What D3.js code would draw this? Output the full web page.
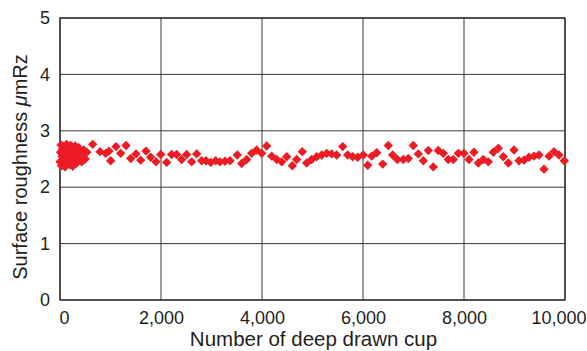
<!DOCTYPE html>
<html>
<head>
<meta charset="utf-8">
<script src="https://cdn.jsdelivr.net/npm/d3@7"></script>
<style>
  body { margin: 0; background: #fff; }
  text { font-family: "Liberation Sans", Arial, sans-serif; fill: #231f20; }
</style>
</head>
<body>
<div id="chart"></div>
<script>
// dense cluster of early cups (0 - 550)
var earlyCups = [0, 10, 20, 30, 40, 50, 60, 70, 80, 90, 100, 110, 120, 130, 140, 150, 160, 170, 180, 190,
    200, 210, 220, 230, 240, 250, 260, 270, 280, 290, 300, 310, 320, 330, 340, 350, 370, 390, 410, 430, 450, 470, 500, 530];
var earlyRz = [2.45, 2.62, 2.75, 2.38, 2.55, 2.68, 2.42, 2.72, 2.50, 2.60, 2.36, 2.66, 2.48, 2.76, 2.57, 2.44, 2.70, 2.52, 2.63, 2.40,
    2.58, 2.74, 2.47, 2.65, 2.53, 2.37, 2.69, 2.55, 2.46, 2.61, 2.73, 2.50, 2.42, 2.64, 2.56, 2.48, 2.70, 2.52, 2.60, 2.45, 2.58, 2.66, 2.50, 2.62];

// later cups
var laterCups = [647, 792, 905, 970, 1003, 1109, 1202, 1307, 1400, 1505, 1598, 1703, 1796, 1901, 1994, 2112, 2211, 2310, 2409, 2508,
    2607, 2706, 2805, 2891, 2984, 3083, 3168, 3267, 3366, 3511, 3597, 3696, 3795, 3894, 3993, 4092, 4192, 4291, 4390, 4489,
    4600, 4687, 4798, 4885, 4984, 5083, 5182, 5281, 5380, 5479, 5598, 5697, 5796, 5895, 6006, 6093, 6172, 6271, 6390, 6501,
    6588, 6680, 6798, 6897, 6996, 7095, 7194, 7293, 7392, 7491, 7590, 7689, 7788, 7887, 8000, 8099, 8198, 8284, 8382, 8481,
    8580, 8679, 8778, 8877, 8990, 9089, 9188, 9287, 9386, 9485, 9584, 9683, 9782, 9881, 9986];
var laterRz = [2.76, 2.63, 2.60, 2.64, 2.47, 2.72, 2.60, 2.74, 2.51, 2.59, 2.48, 2.64, 2.53, 2.45, 2.58, 2.44, 2.58, 2.58, 2.49, 2.58,
    2.45, 2.59, 2.47, 2.47, 2.44, 2.47, 2.45, 2.46, 2.47, 2.57, 2.42, 2.49, 2.60, 2.66, 2.60, 2.73, 2.55, 2.49, 2.45, 2.54,
    2.38, 2.49, 2.63, 2.43, 2.49, 2.54, 2.57, 2.60, 2.59, 2.57, 2.72, 2.57, 2.54, 2.53, 2.57, 2.39, 2.55, 2.61, 2.41, 2.74,
    2.57, 2.49, 2.49, 2.51, 2.74, 2.59, 2.47, 2.65, 2.36, 2.65, 2.60, 2.49, 2.49, 2.60, 2.60, 2.49, 2.62, 2.43, 2.49, 2.45,
    2.62, 2.69, 2.54, 2.43, 2.66, 2.47, 2.48, 2.53, 2.55, 2.57, 2.32, 2.55, 2.63, 2.57, 2.47];

var xTicks = [0, 2000, 4000, 6000, 8000, 10000];
var yTicks = [0, 1, 2, 3, 4, 5];

var data = earlyCups.map(function(c, i){ return {cup: c, rz: earlyRz[i]}; })
    .concat(laterCups.map(function(c, i){ return {cup: c, rz: laterRz[i]}; }));

var W = 587, H = 351;
var margin = {t: 18, r: 22, b: 51, l: 60};
var width = W - margin.l - margin.r,
    height = H - margin.t - margin.b;

var svg = d3.select('#chart').append('svg')
    .attr('width', W)
    .attr('height', H);

var x = d3.scaleLinear().domain([0, 10000]).range([0, width]);
var y = d3.scaleLinear().domain([0, 5]).range([height, 0]);

var g = svg.append('g').attr('transform', 'translate(' + margin.l + ',' + margin.t + ')');

// grid
g.append('g').selectAll('line').data(yTicks).enter().append('line')
    .attr('x1', 0).attr('x2', width)
    .attr('y1', function(d){ return y(d); }).attr('y2', function(d){ return y(d); })
    .attr('stroke', '#3a3a3a').attr('stroke-width', 1);
g.append('g').selectAll('line').data(xTicks).enter().append('line')
    .attr('y1', 0).attr('y2', height)
    .attr('x1', function(d){ return x(d); }).attr('x2', function(d){ return x(d); })
    .attr('stroke', '#3a3a3a').attr('stroke-width', 1);

// frame
g.append('rect').attr('width', width).attr('height', height)
    .attr('fill', 'none').attr('stroke', '#231f20').attr('stroke-width', 1.2);

// axes (labels only)
var xAxis = d3.axisBottom(x).tickValues(xTicks).tickSize(0).tickPadding(11)
    .tickFormat(d3.format(','));
var yAxis = d3.axisLeft(y).tickValues(yTicks).tickSize(0).tickPadding(10)
    .tickFormat(d3.format('d'));

var gx = g.append('g').attr('transform', 'translate(0,' + height + ')').call(xAxis)
    .call(function(a){ a.select('.domain').remove(); });
gx.selectAll('text').style('font-size', '18px').attr('fill', '#231f20');
// first and last labels sit inside the frame edges
gx.selectAll('text').filter(function(d){ return d === 0; }).attr('dx', 4);
gx.selectAll('text').filter(function(d){ return d === 10000; })
    .attr('text-anchor', 'end').attr('dx', 21);

g.append('g').call(yAxis)
    .call(function(a){ a.select('.domain').remove(); })
    .selectAll('text').style('font-size', '18px').attr('fill', '#231f20');

// points
var diamond = d3.symbol().type(d3.symbolSquare).size(44);
g.append('g').selectAll('path').data(data).enter().append('path')
    .attr('d', diamond)
    .attr('transform', function(d){ return 'translate(' + x(d.cup) + ',' + y(d.rz) + ') rotate(45)'; })
    .attr('fill', '#ed1c24');

// titles
svg.append('text')
    .attr('x', margin.l + width / 2 + 1).attr('y', H - 5)
    .attr('text-anchor', 'middle')
    .style('font-size', '20.5px')
    .text('Number of deep drawn cup');

var yt = svg.append('text')
    .attr('transform', 'translate(27,' + (margin.t + height / 2 + 8) + ') rotate(-90)')
    .attr('text-anchor', 'middle')
    .style('font-size', '20px');
yt.append('tspan').text('Surface roughness ');
yt.append('tspan').style('font-style', 'italic').text('\u03bc');
yt.append('tspan').text('mRz');
</script>
</body>
</html>
